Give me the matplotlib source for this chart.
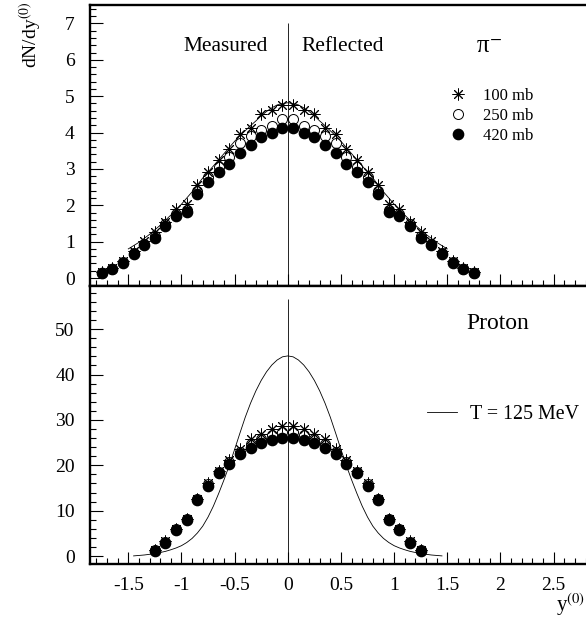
import numpy as np
import matplotlib
matplotlib.use('Agg')
import matplotlib.pyplot as plt
from matplotlib.ticker import MultipleLocator, FixedLocator, FixedFormatter
from matplotlib.lines import Line2D

plt.rcParams['font.family'] = ['Liberation Serif', 'DejaVu Serif']
plt.rcParams['mathtext.fontset'] = 'stix'
plt.rcParams['axes.unicode_minus'] = False

# measured half (negative rapidity); positive side is the reflection
pi_y = [-1.75, -1.65, -1.55, -1.45, -1.35, -1.25, -1.15, -1.05, -0.95,
        -0.85, -0.75, -0.65, -0.55, -0.45, -0.35, -0.25, -0.15, -0.05]
pi_100 = [0.16, 0.28, 0.47, 0.74, 1.02, 1.27, 1.55, 1.89, 2.04,
          2.56, 2.92, 3.25, 3.54, 3.95, 4.12, 4.50, 4.62, 4.75]
pi_250 = [0.15, 0.26, 0.44, 0.69, 0.94, 1.16, 1.48, 1.77, 1.88,
          2.38, 2.78, 3.06, 3.34, 3.72, 3.90, 4.08, 4.17, 4.36]
pi_420 = [0.13, 0.24, 0.42, 0.66, 0.91, 1.11, 1.43, 1.71, 1.81,
          2.31, 2.65, 2.92, 3.14, 3.45, 3.66, 3.87, 3.98, 4.12]

pr_y = [-1.25, -1.15, -1.05, -0.95, -0.85, -0.75, -0.65,
        -0.55, -0.45, -0.35, -0.25, -0.15, -0.05]
pr_100 = [1.4, 3.3, 6.0, 8.2, 12.5, 16.0, 18.8, 21.1, 23.7, 25.8, 27.0, 28.1, 28.7]
pr_250 = [1.3, 3.1, 5.9, 8.1, 12.5, 15.8, 18.6, 20.8, 23.0, 24.6, 25.8, 26.6, 27.3]
pr_420 = [1.17, 3.0, 5.7, 7.9, 12.3, 15.5, 18.3, 20.4, 22.6, 23.9, 25.0, 25.6, 26.1]

# thermal curves (half, from y=0 outwards)
pi_curve_y = [0.0, 0.05, 0.1, 0.15, 0.2, 0.25, 0.3, 0.35, 0.4, 0.45, 0.5,
              0.6, 0.7, 0.8, 0.9, 1.0, 1.1, 1.2, 1.3, 1.4, 1.5]
pi_curve = [4.82, 4.80, 4.76, 4.68, 4.58, 4.46, 4.32, 4.19, 4.05, 3.91, 3.76,
            3.42, 3.08, 2.75, 2.37, 2.03, 1.73, 1.45, 1.2, 0.98, 0.8]
pr_curve_y = [0.0, 0.05, 0.1, 0.15, 0.2, 0.25, 0.3, 0.35, 0.4, 0.45, 0.5,
              0.55, 0.6, 0.65, 0.7, 0.75, 0.8, 0.85, 0.9, 0.95, 1.0,
              1.05, 1.1, 1.15, 1.2, 1.25, 1.3, 1.35, 1.4, 1.45]
pr_curve = [44.1, 43.9, 43.2, 42.1, 40.6, 38.7, 36.4, 33.7, 30.6, 27.1, 23.5,
            20.0, 16.8, 13.8, 11.0, 8.6, 6.6, 5.1, 3.9, 3.0, 2.3,
            1.8, 1.4, 1.05, 0.8, 0.6, 0.4, 0.25, 0.15, 0.05]

x_ticks = [-1.5, -1, -0.5, 0, 0.5, 1, 1.5, 2, 2.5]
x_labels = ['-1.5', '-1', '-0.5', '0', '0.5', '1', '1.5', '2', '2.5']


def mirror(x, y):
    x = np.asarray(x)
    y = np.asarray(y)
    return np.concatenate([x, -x[::-1]]), np.concatenate([y, y[::-1]])


def mirror_curve(x, y):
    x = np.asarray(x)
    y = np.asarray(y)
    return np.concatenate([-x[::-1], x[1:]]), np.concatenate([y[::-1], y[1:]])


def style_axis(ax, ymajor, yminor):
    for side in ['left', 'top', 'bottom']:
        ax.spines[side].set_linewidth(1.7)
    ax.spines['right'].set_visible(False)
    ax.xaxis.set_major_locator(FixedLocator(x_ticks))
    ax.xaxis.set_major_formatter(FixedFormatter(x_labels))
    ax.xaxis.set_minor_locator(MultipleLocator(0.1))
    ax.yaxis.set_major_locator(MultipleLocator(ymajor))
    ax.yaxis.set_minor_locator(MultipleLocator(yminor))
    ax.tick_params(which='both', direction='in', top=False, right=False,
                   width=0.8, labelsize=14)
    ax.tick_params(which='major', length=9)
    ax.tick_params(which='minor', length=4.5)
    ax.tick_params(axis='y', pad=11)
    ax.tick_params(axis='x', pad=9)
    ax.set_xlim(-1.86, 3.0)


def draw_points(ax, x, y100, y250, y420):
    xs, s100 = mirror(x, y100)
    _, s250 = mirror(x, y250)
    _, s420 = mirror(x, y420)
    ax.plot(xs, s250, ls='none', marker='o', ms=7.2, mfc='none', mec='black',
            mew=0.7, label='250 mb', zorder=3)
    ax.plot(xs, s100, ls='none', marker=(8, 2, 0), ms=8.5, mec='black',
            mew=0.7, label='100 mb', zorder=4)
    ax.plot(xs, s420, ls='none', marker='o', ms=7.4, mfc='black', mec='black',
            label='420 mb', zorder=5)


fig = plt.figure(figsize=(5.86, 6.2), dpi=100)
W, H = 586.0, 620.0
left = 90 / W
width = (606.8 - 90) / W
ax1 = fig.add_axes([left, 1 - 286 / H, width, (286 - 5.3) / H])
ax2 = fig.add_axes([left, 1 - 564.3 / H, width, (564.3 - 286) / H])

# top panel: pi-
draw_points(ax1, pi_y, pi_100, pi_250, pi_420)
cx, cy = mirror_curve(pi_curve_y, pi_curve)
ax1.plot(cx, cy, color='black', lw=0.6, zorder=2)
ax1.vlines(0, -0.22, 7, color='black', lw=0.6)
style_axis(ax1, 1, 0.2)
ax1.set_ylim(-0.22, 7.5)
ax1.tick_params(axis='x', labelbottom=False)
ax1.text(-0.585, 6.36, 'Measured', fontsize=15.4, ha='center', va='center')
ax1.text(0.52, 6.36, 'Reflected', fontsize=15.4, ha='center', va='center')
ax1.text(1.89, 6.36, 'π$^{-}$', fontsize=18, ha='center', va='center')
h = ax1.get_legend_handles_labels()[0]
handles = [h[1], h[0], h[2]]
ax1.legend(handles, ['100 mb', '250 mb', '420 mb'], loc='center left',
           bbox_to_anchor=(0.6966, 0.606), frameon=False, fontsize=12,
           handlelength=1.0, handletextpad=1.0, labelspacing=0.25,
           borderpad=0, borderaxespad=0)

# bottom panel: proton
draw_points(ax2, pr_y, pr_100, pr_250, pr_420)
cx, cy = mirror_curve(pr_curve_y, pr_curve)
ax2.plot(cx, cy, color='black', lw=0.6, zorder=2)
ax2.vlines(0, -1.8, 56.6, color='black', lw=0.6)
style_axis(ax2, 10, 2)
ax2.set_ylim(-1.8, 59.5)
ax2.text(1.97, 51.3, 'Proton', fontsize=17, ha='center', va='center')
line = Line2D([], [], color='black', lw=0.6)
ax2.legend([line], ['T = 125 MeV'], loc='center left',
           bbox_to_anchor=(0.6515, 0.5365), frameon=False, fontsize=14.4,
           handlelength=1.5, handletextpad=0.67, borderpad=0, borderaxespad=0)

fig.text(30 / W, 1 - 2 / H, r'dN/dy$^{(0)}$', rotation=90, ha='center',
         va='top', fontsize=14)
fig.text(556 / W, 1 - 605 / H, r'y$^{(0)}$', ha='left', va='center', fontsize=15)

fig.savefig('out.png', dpi=100)
